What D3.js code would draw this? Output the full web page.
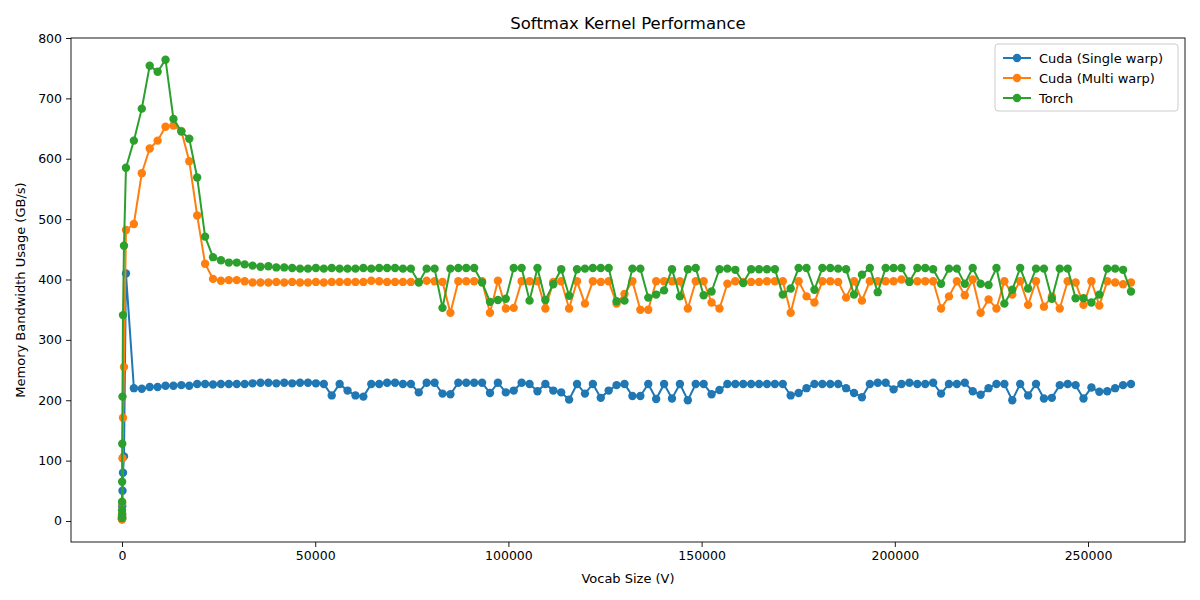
<!DOCTYPE html><html><head><meta charset="utf-8"><script src="https://cdn.jsdelivr.net/npm/d3@7"></script>
<style>body{margin:0;background:#fff}text{font-family:"DejaVu Sans",sans-serif}</style></head><body>
<svg id="c" width="1200" height="600"></svg>
<script>
const smallSizes=[2,4,8,16,32,64,128,256,512];
const bigSizes=d3.range(128).map(i=>1024+2048*i);
const vocab=smallSizes.concat(bigSizes);
const singleSmall=[3,4,5,7,12,25,50,80,107];
const singleBig=[410,220,219,222,222,224,224,225,224,227,227,226,227,227,227,227,228,229,229,228,229,228,229,229,228,227,
208,227,216,208,206,227,227,229,229,227,227,213,229,229,211,210,229,229,229,229,212,229,213,216,229,227,215,227,216,213,
201,227,211,227,204,216,225,227,207,207,227,202,227,203,227,200,227,227,210,217,227,227,227,227,227,227,227,227,208,212,
220,227,227,227,227,220,212,205,227,229,229,218,227,229,227,227,229,211,227,227,229,215,209,220,227,227,200,227,208,227,
203,204,225,227,225,203,221,214,215,220,225,227];
const multiSmall=[3,4,5,8,12,30,104,171,255];
const multiBig=[482,492,576,617,630,653,655,646,596,506,426,401,398,399,399,397,395,395,395,396,395,396,395,395,396,395,
396,396,396,396,396,398,397,396,396,396,396,396,398,397,396,345,397,397,397,397,345,398,352,353,397,397,397,352,396,397,
352,397,360,397,396,397,360,376,397,350,350,397,397,397,397,352,397,397,362,352,393,397,396,396,396,397,397,397,345,397,
372,362,397,397,396,370,397,365,397,397,397,397,400,397,397,397,397,352,372,397,374,400,345,367,352,397,375,397,358,397,
355,372,352,397,395,358,397,357,397,395,392,395];
const torchSmall=[5,10,18,32,65,128,206,341,456];
const torchBig=[585,630,683,754,744,764,666,645,633,569,471,437,432,428,428,425,423,421,422,420,420,419,418,418,419,418,
419,418,418,418,419,418,419,419,419,418,418,395,418,418,353,418,419,419,419,395,363,366,368,419,419,365,419,366,392,417,
373,417,418,419,419,419,364,365,418,418,370,375,382,417,372,417,419,374,380,417,418,416,394,417,417,417,417,375,385,419,
419,383,419,419,418,417,375,408,419,379,419,419,419,396,419,419,417,393,418,418,393,419,393,391,419,360,383,419,385,
418,418,368,418,418,369,369,362,375,418,418,416,380];
const seriesNames=["Cuda (Single warp)","Cuda (Multi warp)","Torch"];
const colors=["#1f77b4","#ff7f0e","#2ca02c"];
const series=[singleSmall.concat(singleBig),multiSmall.concat(multiBig),torchSmall.concat(torchBig)];
const xTicks=[0,50000,100000,150000,200000,250000];
const yTicks=[0,100,200,300,400,500,600,700,800];

const svg=d3.select("#c");
const L=71,R=1185,T=38,B=542;
const x=d3.scaleLinear().domain([-13200,275100]).range([L,R]);
const y=d3.scaleLinear().domain([-34.8,800]).range([B,T]);
const gx=svg.append("g").attr("transform",`translate(0,${B})`).call(d3.axisBottom(x).tickValues(xTicks).tickFormat(d3.format("d")).tickSizeOuter(0).tickSize(5).tickPadding(4));
const gy=svg.append("g").attr("transform",`translate(${L},0)`).call(d3.axisLeft(y).tickValues(yTicks).tickSizeOuter(0).tickSize(5).tickPadding(4));
[gx,gy].forEach(g=>{g.select(".domain").remove();g.selectAll("text").attr("font-size",12.5).attr("fill","#000").attr("font-family","DejaVu Sans");g.selectAll("line").attr("stroke","#000").attr("stroke-width",0.9);});
svg.append("rect").attr("x",L).attr("y",T).attr("width",R-L).attr("height",B-T).attr("fill","none").attr("stroke","#000").attr("stroke-width",0.9);
series.forEach((vals,k)=>{
  const pts=vals.map((v,i)=>[vocab[i],v]).filter(p=>p[0]!==undefined);
  svg.append("path").datum(pts).attr("fill","none").attr("stroke",colors[k]).attr("stroke-width",2)
    .attr("d",d3.line().x(d=>x(d[0])).y(d=>y(d[1])));
  svg.append("g").selectAll("circle").data(pts).join("circle").attr("cx",d=>x(d[0])).attr("cy",d=>y(d[1])).attr("r",4.2).attr("fill",colors[k]);
});
svg.append("text").attr("x",(L+R)/2).attr("y",29).attr("text-anchor","middle").attr("font-size",16.5).text("Softmax Kernel Performance");
svg.append("text").attr("x",(L+R)/2).attr("y",583).attr("text-anchor","middle").attr("font-size",13).text("Vocab Size (V)");
svg.append("text").attr("transform",`translate(25,${(T+B)/2}) rotate(-90)`).attr("text-anchor","middle").attr("font-size",13).text("Memory Bandwidth Usage (GB/s)");
const lg=svg.append("g").attr("transform","translate(995,44)");
lg.append("rect").attr("width",183).attr("height",67).attr("rx",3).attr("fill","#fff").attr("fill-opacity",0.8).attr("stroke","#ccc");
seriesNames.forEach((n,k)=>{
  const yy=14+k*20;
  lg.append("line").attr("x1",8).attr("x2",36).attr("y1",yy).attr("y2",yy).attr("stroke",colors[k]).attr("stroke-width",2);
  lg.append("circle").attr("cx",22).attr("cy",yy).attr("r",4.2).attr("fill",colors[k]);
  lg.append("text").attr("x",44).attr("y",yy+4.5).attr("font-size",13).text(n);
});
</script></body></html>
